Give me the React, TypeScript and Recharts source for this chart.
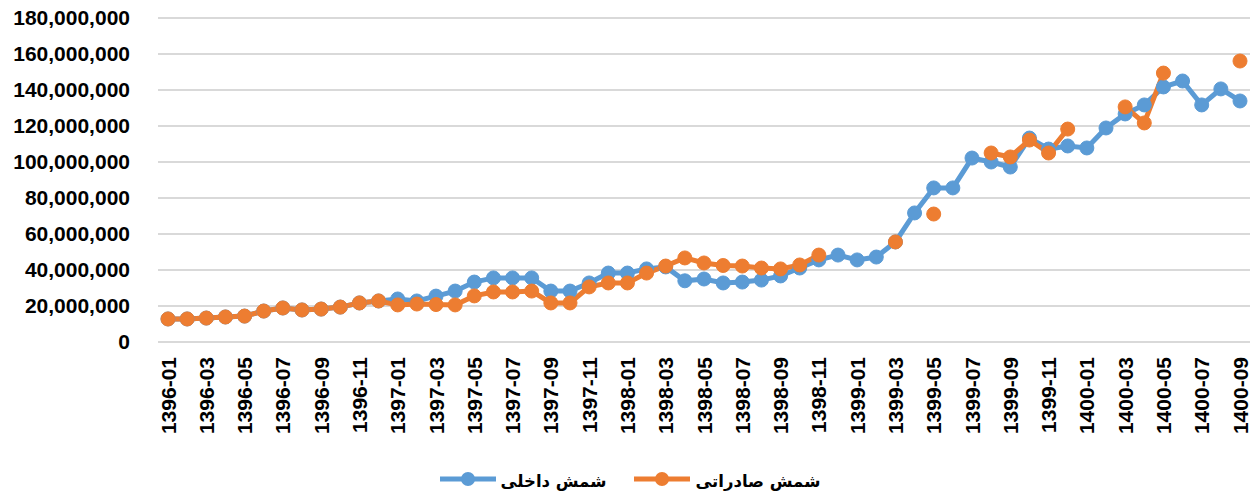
import React from "react";
import { LineChart, Line, XAxis, YAxis, CartesianGrid, Legend } from "recharts";

const months: string[] = [
  "1396-01","1396-02","1396-03","1396-04","1396-05","1396-06","1396-07","1396-08","1396-09","1396-10","1396-11","1396-12",
  "1397-01","1397-02","1397-03","1397-04","1397-05","1397-06","1397-07","1397-08","1397-09","1397-10","1397-11","1397-12",
  "1398-01","1398-02","1398-03","1398-04","1398-05","1398-06","1398-07","1398-08","1398-09","1398-10","1398-11","1398-12",
  "1399-01","1399-02","1399-03","1399-04","1399-05","1399-06","1399-07","1399-08","1399-09","1399-10","1399-11","1399-12",
  "1400-01","1400-02","1400-03","1400-04","1400-05","1400-06","1400-07","1400-08","1400-09",
];

// شمش داخلی (domestic ingot)
const domestic: number[] = [
  12800000, 12800000, 13300000, 13900000, 14400000, 17200000, 18900000, 17800000, 18300000, 19400000, 21700000, 22800000,
  23900000, 22800000, 25500000, 28300000, 33300000, 35600000, 35600000, 35600000, 28300000, 28300000, 32800000, 38300000,
  38300000, 40600000, 41700000, 34000000, 35000000, 32800000, 33300000, 34400000, 36700000, 41100000, 45600000, 48300000,
  45600000, 47200000, 55600000, 71700000, 85600000, 85600000, 102200000, 100000000, 97200000, 113300000, 107200000, 108900000,
  107800000, 118900000, 126700000, 131700000, 141700000, 145000000, 131700000, 140600000, 133900000,
];

// شمش صادراتی (export ingot)
const exported: (number | null)[] = [
  12800000, 12800000, 13300000, 13900000, 14400000, 17200000, 18900000, 17800000, 18300000, 19400000, 21700000, 22800000,
  20600000, 21100000, 20800000, 20600000, 25600000, 27800000, 27800000, 28300000, 21700000, 21700000, 30600000, 32800000,
  32800000, 38300000, 42200000, 46700000, 43900000, 42500000, 42200000, 41100000, 40600000, 42800000, 48300000, null,
  null, null, 55600000, null, 71100000, null, null, 105000000, 102800000, 112200000, 105000000, 118300000,
  null, null, 130600000, 121700000, 149400000, null, null, null, 156100000,
];

const yTicks: number[] = [0, 20000000, 40000000, 60000000, 80000000, 100000000, 120000000, 140000000, 160000000, 180000000];

const seriesNames = { domestic: "شمش داخلی", exported: "شمش صادراتی" };
const BLUE = "#5B9BD5";
const ORANGE = "#ED7D31";

const data = months.map((m, i) => ({
  month: m,
  domestic: domestic[i],
  exported: exported[i],
}));

const fmt = (v: number) => v.toLocaleString("en-US");

const XTick = (props: any) => {
  const { x, y, payload } = props;
  return (
    <g transform={`translate(${x},${y})`}>
      <text
        transform="rotate(-90)"
        textAnchor="end"
        dy="0.36em"
        fontFamily="'Liberation Sans', Arial, sans-serif"
        fontWeight="bold"
        fontSize={21}
        fill="#000"
      >
        {payload.value}
      </text>
    </g>
  );
};

const LegendIcon = ({ color }: { color: string }) => (
  <svg width={56} height={16} style={{ display: "block" }}>
    <line x1={0} y1={8} x2={56} y2={8} stroke={color} strokeWidth={5} strokeLinecap="round" />
    <circle cx={28} cy={8} r={7} fill={color} />
  </svg>
);

const LegendContent = () => (
  <div
    style={{
      display: "flex",
      justifyContent: "center",
      alignItems: "center",
      height: 30,
      paddingLeft: 10,
      fontFamily: "'DejaVu Sans', sans-serif",
      fontWeight: "bold",
      fontSize: 16.5,
      color: "#000",
    }}
  >
    <div style={{ display: "flex", alignItems: "center" }}>
      <LegendIcon color={BLUE} />
      <span style={{ marginLeft: 5, position: "relative", top: 2 }}>{seriesNames.domestic}</span>
    </div>
    <div style={{ display: "flex", alignItems: "center", marginLeft: 28 }}>
      <LegendIcon color={ORANGE} />
      <span style={{ marginLeft: 5, position: "relative", top: 2 }}>{seriesNames.exported}</span>
    </div>
  </div>
);

export default function App() {
  return (
    <div style={{ position: "absolute", left: 0, top: 0, background: "#fff" }}>
      <LineChart
        width={1257}
        height={496}
        data={data}
        margin={{ top: 18, right: 7, left: 0, bottom: 2 }}
      >
        <CartesianGrid vertical={false} stroke="#d9d9d9" strokeWidth={2} />
        <XAxis
          dataKey="month"
          interval={1}
          tick={<XTick />}
          tickLine={false}
          tickSize={0}
          tickMargin={15}
          axisLine={{ stroke: "#d9d9d9", strokeWidth: 2 }}
          height={122}
          padding={{ left: 10, right: 10 }}
        />
        <YAxis
          width={158}
          domain={[0, 180000000]}
          ticks={yTicks}
          tickFormatter={fmt}
          axisLine={false}
          tickLine={false}
          tickSize={0}
          tickMargin={28}
          tick={{ fill: "#000", fontSize: 21, fontWeight: "bold", fontFamily: "'Liberation Sans', Arial, sans-serif" }}
        />
        <Legend verticalAlign="bottom" height={30} content={<LegendContent />} />
        <Line
          type="linear"
          dataKey="domestic"
          name={seriesNames.domestic}
          stroke={BLUE}
          strokeWidth={5}
          dot={{ r: 7, fill: BLUE, stroke: BLUE, strokeWidth: 1 }}
          activeDot={false}
          isAnimationActive={false}
        />
        <Line
          type="linear"
          dataKey="exported"
          name={seriesNames.exported}
          stroke={ORANGE}
          strokeWidth={5}
          dot={{ r: 7, fill: ORANGE, stroke: ORANGE, strokeWidth: 1 }}
          activeDot={false}
          isAnimationActive={false}
        />
      </LineChart>
    </div>
  );
}
